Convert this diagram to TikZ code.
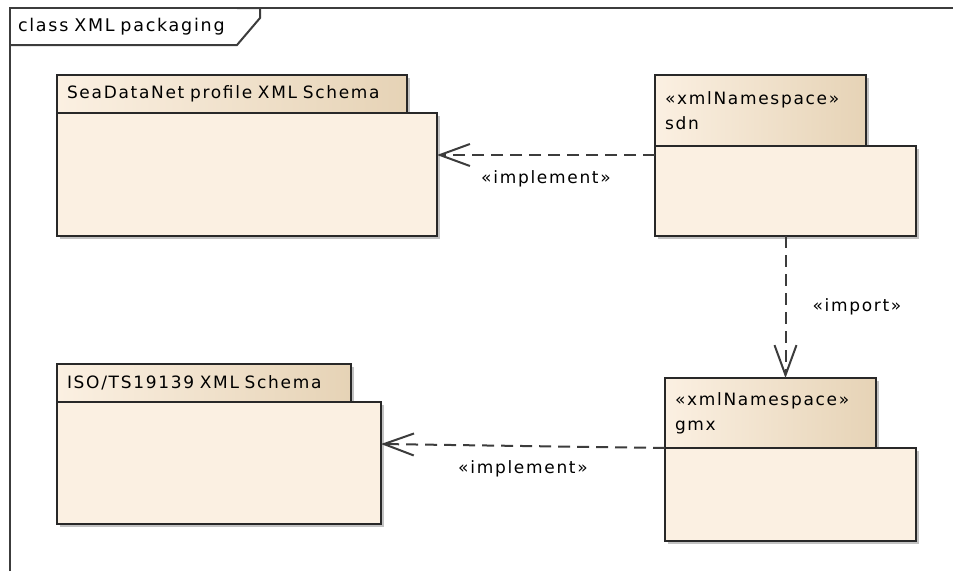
\documentclass[tikz,border=0pt]{standalone}
\usepackage{xcolor}
\usepackage{fontspec}
\setmainfont{DejaVu Sans}[LetterSpace=10]
\usepackage{tikz}
\definecolor{pkgfill}{RGB}{251, 240, 226}
\definecolor{pkgtan}{RGB}{230, 211, 182}
\definecolor{pkgline}{RGB}{40, 40, 40}
\definecolor{framegray}{RGB}{60, 60, 60}
\usetikzlibrary{arrows.meta,positioning,shadows}

\begin{document}
\begin{tikzpicture}[x=1pt, y=-1pt,
    pkgtab/.style={rectangle, draw=pkgline, line width=1.8pt, anchor=north west, outer sep=0pt,
        inner xsep=10pt, inner ysep=0pt, align=left, left color=pkgfill, middle color=pkgfill,
        right color=pkgtan, font=\fontsize{17}{25}\selectfont,
        drop shadow={shadow xshift=3pt, shadow yshift=-3pt, fill=black!60, opacity=0.4}},
    pkgbody/.style={rectangle, draw=pkgline, line width=1.8pt, fill=pkgfill, outer sep=0pt, inner sep=0pt,
        drop shadow={shadow xshift=3pt, shadow yshift=-3pt, fill=black!60, opacity=0.4}},
    dep/.style={draw=framegray, line width=2pt, dash pattern=on 12pt off 7pt,
        -{Straight Barb[length=30pt, width=22pt]}},
    lbl/.style={font=\fontsize{17}{18}\selectfont, inner sep=0pt}
]
    \useasboundingbox (0,0) rectangle (953,571);

    % Diagram frame
    \node[anchor=north west, minimum height=37pt, text width=211pt, inner xsep=8pt, inner ysep=0pt,
        outer sep=0pt, font=\fontsize{17.5}{18}\selectfont] (frametab) at (10,8) {class XML packaging};
    \draw[framegray, line width=2pt] (10,571) -- (frametab.north west) -- (953,8);
    \draw[framegray, line width=2pt] (frametab.south west) -- (frametab.south east) -- ++(23,-27) |- (frametab.north east);

    % SeaDataNet profile package
    \node[pkgtab, minimum height=38pt, text width=330pt] (seatab) at (57,75) {SeaDataNet profile XML Schema};
    \node[pkgbody, minimum width=380pt, minimum height=123pt, below right=0pt and 0pt of seatab.south west] (seabody) {};

    % sdn namespace
    \node[pkgtab, minimum height=71pt, text width=191pt] (sdntab) at (655,75) {«xmlNamespace»\\sdn};
    \node[pkgbody, minimum width=261pt, minimum height=90pt, below right=0pt and 0pt of sdntab.south west] (sdnbody) {};

    % ISO/TS19139 package
    \node[pkgtab, minimum height=38pt, text width=274pt] (isotab) at (57,364) {ISO/TS19139 XML Schema};
    \node[pkgbody, minimum width=324pt, minimum height=122pt, below right=0pt and 0pt of isotab.south west] (isobody) {};

    % gmx namespace
    \node[pkgtab, minimum height=70pt, text width=191pt] (gmxtab) at (665,378) {«xmlNamespace»\\gmx};
    \node[pkgbody, minimum width=251pt, minimum height=93pt, below right=0pt and 0pt of gmxtab.south west] (gmxbody) {};

    % Dependencies
    \draw[dep] ([yshift=-9pt]sdnbody.north west) -- ([yshift=-9pt]sdnbody.north west -| seabody.east)
        node[lbl, midway, below=15pt] (implsea) {«implement»};
    \draw[dep] (gmxbody.north west) -- ([yshift=-42pt]isobody.north east)
        node[lbl, midway, below=14pt] (impliso) {«implement»};
    \draw[dep] (sdnbody.south) -- (sdnbody.south |- gmxtab.north)
        node[lbl, midway, right=26pt] (imp) {«import»};
\end{tikzpicture}
\end{document}
